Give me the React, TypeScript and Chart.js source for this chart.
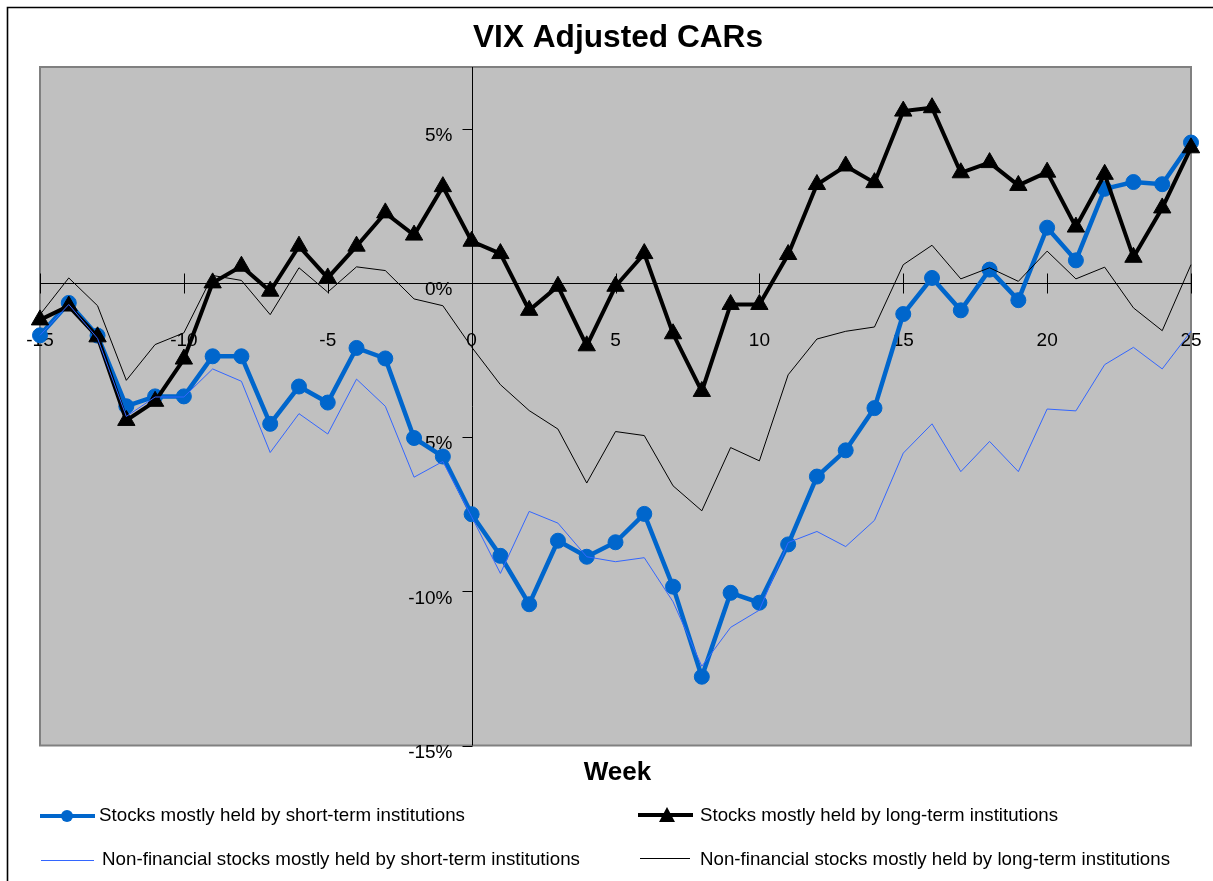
import React, { useEffect, useRef } from "react";
import { Chart, registerables } from "chart.js";

Chart.register(...registerables);

// ---- Data ----
const weeks = [
  -15, -14, -13, -12, -11, -10, -9, -8, -7, -6, -5, -4, -3, -2, -1,
  0, 1, 2, 3, 4, 5, 6, 7, 8, 9, 10, 11, 12, 13, 14, 15, 16, 17, 18, 19, 20,
  21, 22, 23, 24, 25, 26,
];

const shortTerm = [
  -1.7, -0.65, -1.71, -4.0, -3.68, -3.68, -2.38, -2.38, -4.57, -3.36, -3.88, -2.11, -2.45, -5.03, -5.63,
  -7.5, -8.85, -10.42, -8.36, -8.88, -8.41, -7.49, -9.85, -12.77, -10.05, -10.37,
  -8.48, -6.28, -5.43, -4.06, -1.01, 0.16, -0.89, 0.43, -0.56, 1.79, 0.73, 3.05, 3.27, 3.2, 4.55, 4.3,
];

const longTerm = [
  -1.2, -0.75, -1.75, -4.46, -3.84, -2.47, 0.0, 0.54, -0.27, 1.19, 0.16, 1.19, 2.27, 1.55, 3.12,
  1.35, 0.95, -0.89, -0.11, -2.04, -0.11, 0.95, -1.65, -3.52, -0.7, -0.7,
  0.92, 3.19, 3.79, 3.25, 5.57, 5.68, 3.57, 3.9, 3.16, 3.59, 1.81, 3.52, 0.83, 2.43, 4.38, 4.2,
];

const nfShortTerm = [
  -1.7, -0.7, -1.8, -4.33, -3.7, -3.7, -2.79, -3.19, -5.5, -4.24, -4.9, -3.12, -4.0, -6.3, -5.79,
  -7.58, -9.42, -7.41, -7.79, -8.88, -9.04, -8.91, -10.34, -12.43, -11.17, -10.61,
  -8.42, -8.06, -8.55, -7.7, -5.52, -4.57, -6.12, -5.14, -6.12, -4.09, -4.15, -2.65, -2.09, -2.79, -1.57, null,
];

const nfLongTerm = [
  -1.03, 0.16, -0.74, -3.16, -2.0, -1.62, 0.24, 0.08, -1.03, 0.49, -0.3, 0.52, 0.4, -0.52, -0.74,
  -2.08, -3.3, -4.14, -4.74, -6.49, -4.82, -4.95, -6.58, -7.39, -5.34, -5.77,
  -2.98, -1.82, -1.57, -1.43, 0.59, 1.22, 0.13, 0.49, 0.05, 1.03, 0.13, 0.51, -0.81, -1.55, 0.59, 0.88,
];

const xTicks = [-15, -10, -5, 0, 5, 10, 15, 20, 25];
const yTicks = [-15, -10, -5, 0, 5];

const seriesNames = [
  "Stocks mostly held by short-term institutions",
  "Stocks mostly held by long-term institutions",
  "Non-financial stocks mostly held by short-term institutions",
  "Non-financial stocks mostly held by long-term institutions",
];

const TITLE = "VIX Adjusted CARs";
const X_TITLE = "Week";

const FONT = "'Liberation Sans', Arial, Helvetica, sans-serif";
const BLUE = "#0066CC";
const THIN_BLUE = "#3366FF";

const toPoints = (vals: (number | null)[]) =>
  weeks.map((w, i) => ({ x: w, y: vals[i] }));

const decorPlugin = {
  id: "excelDecor",
  beforeDraw(chart: any) {
    const { ctx, chartArea: a } = chart;
    ctx.save();
    ctx.fillStyle = "#ffffff";
    ctx.fillRect(0, 0, chart.width, chart.height);
    // outer frame
    ctx.strokeStyle = "#000000";
    ctx.lineWidth = 1.6;
    ctx.beginPath();
    ctx.moveTo(7.5, chart.height + 5);
    ctx.lineTo(7.5, 7.5);
    ctx.lineTo(chart.width + 5, 7.5);
    ctx.stroke();
    // plot area
    ctx.fillStyle = "#C0C0C0";
    ctx.fillRect(a.left, a.top, a.right - a.left, a.bottom - a.top);
    ctx.strokeStyle = "#808080";
    ctx.lineWidth = 2;
    ctx.strokeRect(a.left, a.top, a.right - a.left, a.bottom - a.top);
    ctx.restore();
  },
  beforeDatasetsDraw(chart: any) {
    const { ctx, chartArea: a } = chart;
    const xs = chart.scales.x;
    const ys = chart.scales.y;
    const x0 = Math.round(xs.getPixelForValue(0)) + 0.5;
    const y0 = Math.round(ys.getPixelForValue(0)) + 0.5;
    ctx.save();
    ctx.strokeStyle = "#000000";
    ctx.lineWidth = 1;
    ctx.beginPath();
    ctx.moveTo(a.left, y0);
    ctx.lineTo(a.right, y0);
    ctx.moveTo(x0, a.top);
    ctx.lineTo(x0, a.bottom);
    xTicks.forEach((v) => {
      const px = Math.round(xs.getPixelForValue(v)) + 0.5;
      ctx.moveTo(px, y0 - 10);
      ctx.lineTo(px, y0 + 10);
    });
    yTicks.forEach((v) => {
      const py = Math.round(ys.getPixelForValue(v)) + 0.5;
      ctx.moveTo(x0 - 10, py);
      ctx.lineTo(x0, py);
    });
    ctx.stroke();

    ctx.fillStyle = "#000000";
    ctx.font = `19px ${FONT}`;
    ctx.textAlign = "center";
    ctx.textBaseline = "middle";
    xTicks.forEach((v) => {
      ctx.fillText(String(v), xs.getPixelForValue(v), y0 + 57);
    });
    ctx.textAlign = "right";
    yTicks.forEach((v) => {
      ctx.fillText(`${v}%`, x0 - 20, ys.getPixelForValue(v) + 7);
    });
    ctx.restore();
  },
  afterDraw(chart: any) {
    const { ctx } = chart;
    ctx.save();
    ctx.fillStyle = "#000000";
    ctx.textBaseline = "alphabetic";
    // title
    ctx.textAlign = "center";
    ctx.font = `bold 32px ${FONT}`;
    ctx.fillText(TITLE, 618, 47, 290);
    // axis title
    ctx.font = `bold 26px ${FONT}`;
    ctx.fillText(X_TITLE, 617.5, 780, 74);

    // legend
    const ds = chart.data.datasets;
    ctx.textAlign = "left";
    ctx.font = `19px ${FONT}`;
    // row 1, col 1: thick blue with circle
    ctx.strokeStyle = BLUE;
    ctx.lineWidth = 4;
    ctx.beginPath();
    ctx.moveTo(40, 816);
    ctx.lineTo(95, 816);
    ctx.stroke();
    ctx.fillStyle = BLUE;
    ctx.beginPath();
    ctx.arc(67, 816, 6, 0, Math.PI * 2);
    ctx.fill();
    ctx.fillStyle = "#000000";
    ctx.fillText(ds[0].label, 99, 821, 366);
    // row 1, col 2: thick black with triangle
    ctx.strokeStyle = "#000000";
    ctx.lineWidth = 4;
    ctx.beginPath();
    ctx.moveTo(638, 815);
    ctx.lineTo(693, 815);
    ctx.stroke();
    ctx.beginPath();
    ctx.moveTo(667, 807);
    ctx.lineTo(675, 822);
    ctx.lineTo(659, 822);
    ctx.closePath();
    ctx.fill();
    ctx.fillText(ds[1].label, 700, 821, 358);
    // row 2, col 1: thin blue
    ctx.strokeStyle = THIN_BLUE;
    ctx.lineWidth = 1;
    ctx.beginPath();
    ctx.moveTo(41, 860.5);
    ctx.lineTo(94, 860.5);
    ctx.stroke();
    ctx.fillText(ds[2].label, 102, 865, 478);
    // row 2, col 2: thin black
    ctx.strokeStyle = "#000000";
    ctx.beginPath();
    ctx.moveTo(640, 858.5);
    ctx.lineTo(690, 858.5);
    ctx.stroke();
    ctx.fillText(ds[3].label, 700, 865, 470);
    ctx.restore();
  },
};

export default function App() {
  const canvasRef = useRef<HTMLCanvasElement | null>(null);

  useEffect(() => {
    const canvas = canvasRef.current;
    if (!canvas) return;
    const clip = { left: false, top: false, right: 11, bottom: false };
    const chart = new Chart(canvas, {
      type: "line",
      data: {
        datasets: [
          {
            label: seriesNames[0],
            data: toPoints(shortTerm),
            borderColor: BLUE,
            backgroundColor: BLUE,
            borderWidth: 4.5,
            pointStyle: "circle",
            pointRadius: 7.5,
            pointBorderWidth: 1,
            pointBackgroundColor: BLUE,
            pointBorderColor: BLUE,
            tension: 0,
            order: 4,
            clip: clip as any,
          },
          {
            label: seriesNames[1],
            data: toPoints(longTerm),
            borderColor: "#000000",
            backgroundColor: "#000000",
            borderWidth: 4,
            pointStyle: "triangle",
            pointRadius: 10,
            pointBorderWidth: 1,
            pointBackgroundColor: "#000000",
            pointBorderColor: "#000000",
            tension: 0,
            order: 3,
            clip: clip as any,
          },
          {
            label: seriesNames[2],
            data: toPoints(nfShortTerm),
            borderColor: THIN_BLUE,
            backgroundColor: THIN_BLUE,
            borderWidth: 1,
            pointRadius: 0,
            tension: 0,
            order: 2,
            clip: clip as any,
          },
          {
            label: seriesNames[3],
            data: toPoints(nfLongTerm),
            borderColor: "#000000",
            backgroundColor: "#000000",
            borderWidth: 1,
            pointRadius: 0,
            tension: 0,
            order: 1,
            clip: clip as any,
          },
        ],
      },
      options: {
        animation: false,
        responsive: false,
        devicePixelRatio: 1,
        layout: { padding: { left: 40, top: 67, right: 22, bottom: 135.5 } },
        plugins: {
          legend: { display: false },
          title: { display: false },
          tooltip: { enabled: false },
        },
        events: [],
        scales: {
          x: { type: "linear", min: -15, max: 25, display: false },
          y: { type: "linear", min: -15, max: 7, display: false },
        },
      },
      plugins: [decorPlugin],
    });
    return () => chart.destroy();
  }, []);

  return (
    <div style={{ position: "absolute", left: 0, top: 0, width: 1213, height: 881 }}>
      <canvas ref={canvasRef} width={1213} height={881} style={{ display: "block" }} />
    </div>
  );
}
